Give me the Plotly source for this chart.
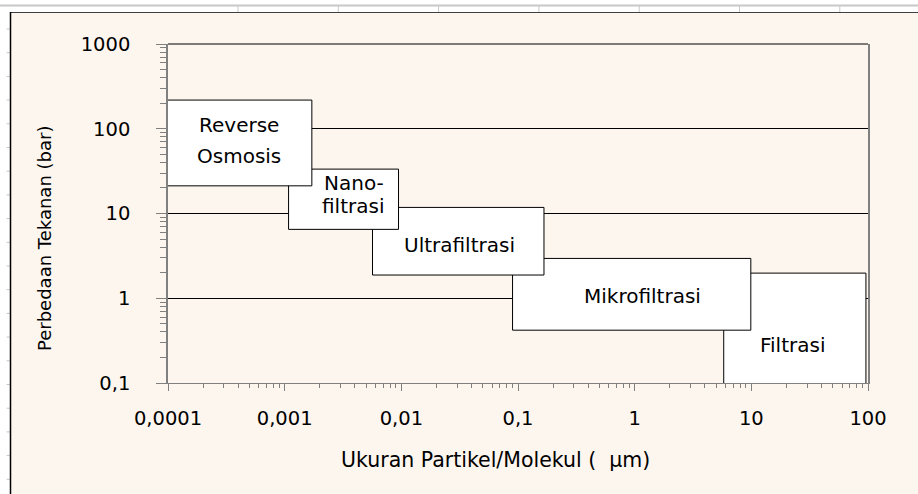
import numpy as np
import plotly.graph_objects as go

# ---------------- data ----------------
processes = ["Reverse Osmosis", "Nanofiltrasi", "Ultrafiltrasi", "Mikrofiltrasi", "Filtrasi"]
label_lines = [["Reverse", "Osmosis"], ["Nano-", "filtrasi"], ["Ultrafiltrasi"], ["Mikrofiltrasi"], ["Filtrasi"]]
size_min = [0.000096, 0.00108, 0.00566, 0.0898, 5.8]      # µm
size_max = [0.00171, 0.00946, 0.167, 9.9, 96.0]           # µm
pressure_min = [21.2, 6.5, 1.88, 0.42, 0.092]             # bar
pressure_max = [218.0, 33.4, 11.8, 2.95, 1.98]            # bar

x_tickvals = [0.0001, 0.001, 0.01, 0.1, 1, 10, 100]
x_ticktext = ["0,0001", "0,001", "0,01", "0,1", "1", "10", "100"]
y_tickvals = [0.1, 1, 10, 100, 1000]
y_ticktext = ["0,1", "1", "10", "100", "1000"]

x_title = "Ukuran Partikel/Molekul (\u00a0\u00a0µm)"
y_title = "Perbedaan Tekanan (bar)"

# ---------------- style ----------------
CREAM = "#fdf6ef"
GRID = "#000000"
AXIS = "#808080"
FONT = "DejaVu Sans, Arial, sans-serif"
W, H = 918, 494
ML, MR, MT, MB = 168, 50, 44, 111
PW, PH = W - ML - MR, H - MT - MB

# label line offsets (px) relative to the box centre
line_offsets = [[(0, -18), (0, 13)], [(10, -16), (9, 7)], [(1, 4)], [(10.5, 2)], [(-2, 15.5)]]

fig = go.Figure()

# boxes, drawn so that earlier processes lie on top
for i in reversed(range(len(processes))):
    x0, x1 = size_min[i], size_max[i]
    y0, y1 = pressure_min[i], pressure_max[i]
    fig.add_trace(go.Scatter(
        x=[x0, x1, x1, x0, x0], y=[y0, y0, y1, y1, y0],
        mode="lines", fill="toself", fillcolor="white",
        line=dict(color="black", width=1),
        name=processes[i], hoverinfo="name", showlegend=False,
    ))

annotations = []
for i, lines in enumerate(label_lines):
    cx = (np.log10(size_min[i]) + np.log10(size_max[i])) / 2
    cy = (np.log10(pressure_min[i]) + np.log10(pressure_max[i])) / 2
    for line, (dx, dy) in zip(lines, line_offsets[i]):
        annotations.append(dict(
            x=cx, y=cy, xref="x", yref="y", text=line, showarrow=False,
            xshift=dx, yshift=-dy, xanchor="center", yanchor="middle",
            font=dict(family=FONT, size=20, color="black"),
        ))

def px(xp):
    return (xp - ML) / PW

def py(yp):
    return (H - MB - yp) / PH

annotations.append(dict(
    x=px(495.5), y=py(460), xref="paper", yref="paper", text=x_title, showarrow=False,
    xanchor="center", yanchor="middle", font=dict(family=FONT, size=20.5, color="black"),
))
annotations.append(dict(
    x=px(44.5), y=py(238.5), xref="paper", yref="paper", text=y_title, showarrow=False,
    textangle=-90, xanchor="center", yanchor="middle",
    font=dict(family=FONT, size=18, color="black"),
))

# spreadsheet-like surroundings
shapes = []
shapes.append(dict(type="rect", xref="paper", yref="paper", x0=px(0), x1=px(W), y0=py(0), y1=py(12),
                   fillcolor="white", line=dict(width=0), layer="above"))
shapes.append(dict(type="rect", xref="paper", yref="paper", x0=px(0), x1=px(10), y0=py(12), y1=py(H),
                   fillcolor="white", line=dict(width=0), layer="above"))
shapes.append(dict(type="line", xref="paper", yref="paper", x0=px(0), x1=px(W), y0=py(5.5), y1=py(5.5),
                   line=dict(color="#c8c8c8", width=2), layer="above"))
for k in range(7):
    xc = 238 + 100.3 * k
    shapes.append(dict(type="line", xref="paper", yref="paper", x0=px(xc), x1=px(xc), y0=py(5), y1=py(12),
                       line=dict(color="#c8c8c8", width=1), layer="above"))
yr = 29.0
while yr < H:
    shapes.append(dict(type="line", xref="paper", yref="paper", x0=px(6.5), x1=px(10), y0=py(yr), y1=py(yr),
                       line=dict(color="#c8c8c8", width=1), layer="above"))
    yr += 23.7
shapes.append(dict(type="line", xref="paper", yref="paper", x0=px(10), x1=px(W), y0=py(12.5), y1=py(12.5),
                   line=dict(color="#404040", width=1), layer="above"))
shapes.append(dict(type="line", xref="paper", yref="paper", x0=px(10.5), x1=px(10.5), y0=py(12), y1=py(H),
                   line=dict(color="black", width=1.5), layer="above"))
# top frame of the plot area (black, like the grid lines)
shapes.append(dict(type="line", xref="paper", yref="paper", x0=0, x1=1, y0=1, y1=1,
                   line=dict(color="black", width=1), layer="below"))

x_minor = [m * 10.0 ** e for e in range(-4, 2) for m in range(2, 10)]
y_minor = [m * 10.0 ** e for e in range(-1, 3) for m in range(2, 10)]

fig.update_layout(
    width=W, height=H, autosize=False,
    margin=dict(l=ML, r=MR, t=MT, b=MB, pad=0),
    paper_bgcolor=CREAM, plot_bgcolor=CREAM,
    font=dict(family=FONT, size=19.5, color="black"),
    showlegend=False,
    annotations=annotations,
    shapes=shapes,
    xaxis=dict(
        type="log", range=[-4, 2],
        tickmode="array", tickvals=x_tickvals, ticktext=x_ticktext,
        ticks="outside", ticklen=7, tickcolor=AXIS, tickwidth=1,
        ticklabelstandoff=11,
        showline=True, linecolor=AXIS, linewidth=1, mirror=False,
        showgrid=False, zeroline=False,
        minor=dict(tickmode="array", tickvals=x_minor, ticks="outside", ticklen=4,
                   tickcolor=AXIS, showgrid=False),
        tickfont=dict(family=FONT, size=19.5, color="black"),
    ),
    yaxis=dict(
        type="log", range=[-1, 3],
        tickmode="array", tickvals=y_tickvals, ticktext=y_ticktext,
        ticks="outside", ticklen=10, tickcolor=AXIS, tickwidth=1,
        ticklabelstandoff=22,
        showline=True, linecolor=AXIS, linewidth=1.5, mirror=True,
        showgrid=True, gridcolor=GRID, gridwidth=1, zeroline=False,
        minor=dict(tickmode="array", tickvals=y_minor, ticks="outside", ticklen=6,
                   tickcolor=AXIS, showgrid=False),
        tickfont=dict(family=FONT, size=19.5, color="black"),
    ),
)

fig.write_html(
    "out.html",
    config={"displayModeBar": False},
    post_script="document.body.style.margin='0';document.body.style.overflow='hidden';",
)
